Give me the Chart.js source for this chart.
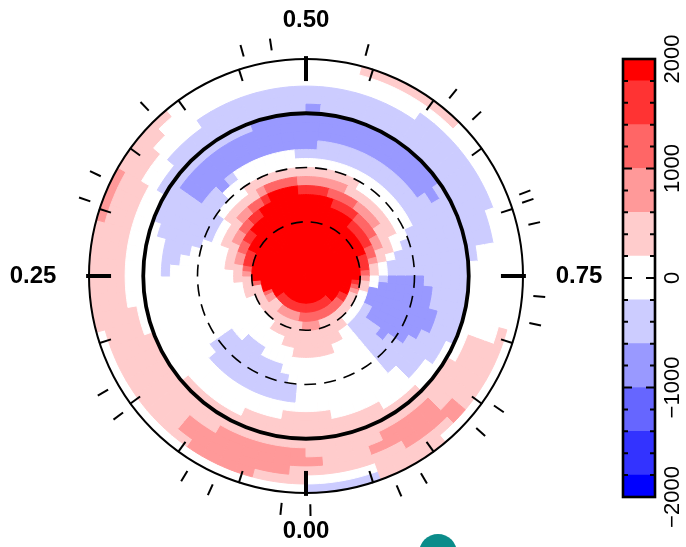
<!DOCTYPE html>
<html>
<head>
<meta charset="utf-8">
<script src="https://cdn.jsdelivr.net/npm/chart.js@4.4.1/dist/chart.umd.min.js"></script>
<style>
  html, body { margin: 0; padding: 0; background: #fff; }
  #wrap { position: relative; width: 686px; height: 547px; overflow: hidden; }
  #wrap canvas { position: absolute; left: 0; top: 0; }
</style>
</head>
<body>
<div id="wrap">
  <canvas id="map" width="686" height="547"></canvas>
  <canvas id="cbar" width="686" height="547"></canvas>
</div>
<script>
/* ---- data ---- */

// longitude bins (deg of phase), 5 deg each, starting at phase 0.00
const longitudes = [0, 5, 10, 15, 20, 25, 30, 35, 40, 45, 50, 55,
                    60, 65, 70, 75, 80, 85, 90, 95, 100, 105, 110, 115,
                    120, 125, 130, 135, 140, 145, 150, 155, 160, 165, 170, 175,
                    180, 185, 190, 195, 200, 205, 210, 215, 220, 225, 230, 235,
                    240, 245, 250, 255, 260, 265, 270, 275, 280, 285, 290, 295,
                    300, 305, 310, 315, 320, 325, 330, 335, 340, 345, 350, 355];

// outer colatitude of each ring (deg), pole outwards
const ringColat = [5, 10, 15, 20, 25, 30, 35, 40, 45, 50, 55, 60,
                   65, 70, 75, 80, 85, 90, 95, 100, 105, 110, 115, 120];

// field level per cell, one row per ring (pole outwards).
// the three polar caps use 10 deg bins (36 chars), the rest 5 deg bins (72 chars)
// a/b = weak/medium negative, 1..5 = increasing positive, 0 = near zero
const mapRows = [
  "555555 555555 555555 555555 555555 555555",
  "555555 555555 555555 555555 555555 555555",
  "555555 555555 555555 555555 555555 555555",
  "444444 444445 555555 555555 555555 555555 555555 555555 555555 555555 555444 444444",
  "332222 221112 235555 555555 555555 555555 555555 555555 555555 555554 433333 333333",
  "211111 111111 111135 555555 555555 555555 555555 555555 555555 543211 111111 111222",
  "111111 100000 001111 234445 555555 555555 555555 555555 554443 211000 000011 111111",
  "111100 000000 000001 112233 445555 555555 555555 554444 433211 00bbba aaaa00 111111",
  "110000 000000 000000 011112 233445 555555 555544 443333 221100 abbbbb baaa00 001111",
  "000000 aaa000 000000 000011 112233 455554 444333 322221 1110aa bbbbbb baaa00 000000",
  "000aaa aaaaa0 000000 000000 011111 233332 222221 111111 100aaa bbbbbb bbaa00 000000",
  "00aaaa aaaaa0 000000 0000aa a00001 111111 111111 000000 00aaaa bbbbbb baaa00 000000",
  "0aaaaa aaaaa0 000000 000aaa aaa000 000000 000000 000000 0aaaaa bbbbbb baaa00 000000",
  "0aaaaa aaaa00 000000 00aaaa aaaba0 00000a aaaaaa aaaaaa aaaaaa abbbbb aaaa00 000000",
  "000000 000000 000000 0aaaaa abbbbb bbbbbb baaaaa aaaaaa aaaaaa aaabba aaa000 000000",
  "110000 000000 000000 aaaaaa abbbbb bbbbbb bbbbbb bbbbba aaaaaa aaaaaa aaa000 000011",
  "111110 000000 000000 000aaa abbbbb bbbbbb bbbbbb bbbbbb aaaaaa aaaaaa a00000 111111",
  "111111 111100 000000 0000aa aaaaaa aabbbb bbbbbb bbbbba aaaaaa aaaaa0 000111 111111",
  "111111 111111 110000 000000 aaaaaa aaaaaa baaaaa aaaaaa aaaaa0 000000 111111 111111",
  "222222 111111 111100 000000 00aaaa aaaaaa aaaaaa aaaaaa aaaa00 000011 111222 211111",
  "222222 221111 111111 111111 00000a aaaaaa aaaaaa aaaaaa aaaa00 000011 111222 221112",
  "122222 221111 111111 111111 110000 000000 000000 0aaaaa aa0000 000011 112222 111111",
  "111222 211111 111111 111111 111000 000000 000000 000000 000000 000111 112111 110000",
  "000000 000000 000111 111222 111100 000000 000111 111000 000000 000000 000011 11aaaa"
];

// field strength (G) represented by each level
const levelValues = { e: -1900, d: -1600, c: -1200, b: -800, a: -400, '0': 0,
                      '1': 400, '2': 800, '3': 1200, '4': 1600, '5': 1900 };

// colour bar bins
const levelEdges  = [-2000, -1800, -1400, -1000, -600, -200, 200, 600, 1000, 1400, 1800, 2000];
const levelColors = ['#0000ff', '#3333ff', '#6666ff', '#9999ff', '#ccccff', '#ffffff',
                     '#ffcccc', '#ff9999', '#ff6666', '#ff3333', '#ff0000'];
const cbarTicks = [-2000, -1000, 0, 1000, 2000];

// phase labels and marks
const phaseLabels = ['0.00', '0.25', '0.50', '0.75'];
const quarterPhases = [0, 0.25, 0.5, 0.75];
const gridPhases = [0.05, 0.10, 0.15, 0.20, 0.30, 0.35, 0.40, 0.45,
                    0.55, 0.60, 0.65, 0.70, 0.80, 0.85, 0.90, 0.95];
const obsPhases = [0.017, 0.067, 0.087, 0.148, 0.167, 0.303, 0.322, 0.379,
                   0.456, 0.476, 0.542, 0.608, 0.630, 0.692, 0.698, 0.714,
                   0.764, 0.783, 0.846, 0.866, 0.916, 0.935, 0.997];

/* ---- helpers ---- */

function levelColor(v) {
  for (let i = 0; i < levelColors.length; i++) {
    if (v < levelEdges[i + 1]) return levelColors[i];
  }
  return levelColors[levelColors.length - 1];
}

// one polar-area dataset per ring; inner rings sit on top of outer ones
const ringSets = mapRows.map((row, i) => {
  const cells = row.replace(/ /g, '').split('');
  const colors = cells.map(c => levelColor(levelValues[c]));
  return {
    data: cells.map(() => ringColat[i]),
    backgroundColor: colors,
    borderColor: colors,
    borderWidth: 1,
  };
});

/* ---- map decorations: phase marks + labels ---- */
const polarDecor = {
  id: 'polarDecor',
  afterDraw(chart) {
    const r = chart.scales.r;
    const ctx = chart.ctx;
    const pt = (phase, colat) => {
      const a = (phase * 360 + 90) * Math.PI / 180;
      const d = r.getDistanceFromCenterForValue(colat);
      return [r.xCenter + d * Math.cos(a), r.yCenter + d * Math.sin(a)];
    };
    const mark = (phase, c0, c1, w) => {
      const [x0, y0] = pt(phase, c0);
      const [x1, y1] = pt(phase, c1);
      ctx.lineWidth = w;
      ctx.beginPath(); ctx.moveTo(x0, y0); ctx.lineTo(x1, y1); ctx.stroke();
    };

    ctx.save();
    ctx.strokeStyle = '#000';
    ctx.lineCap = 'butt';
    quarterPhases.forEach(p => mark(p, 107.8, 121.6, 4));
    gridPhases.forEach(p => mark(p, 113.4, 120.4, 2));
    obsPhases.forEach(p => mark(p, 126.2, 132.8, 2));

    // phase labels
    ctx.fillStyle = '#000';
    ctx.font = 'bold 24px "Liberation Sans", Arial, sans-serif';
    ctx.textAlign = 'center';
    ctx.textBaseline = 'middle';
    const rOut = r.getDistanceFromCenterForValue(120);
    phaseLabels.forEach((lab, i) => {
      const p = quarterPhases[i];
      const vertical = (p === 0 || p === 0.5);
      const d = rOut + (vertical ? 38.5 : 56);
      const a = (p * 360 + 90) * Math.PI / 180;
      ctx.fillText(lab, r.xCenter + d * Math.cos(a), r.yCenter + d * Math.sin(a));
    });

    // stray teal marker at the lower edge of the picture
    ctx.fillStyle = '#0b8c8a';
    ctx.beginPath(); ctx.arc(438, 553, 19, 0, Math.PI * 2); ctx.fill();
    ctx.restore();
  }
};

new Chart(document.getElementById('map'), {
  type: 'polarArea',
  data: { labels: longitudes.map(String), datasets: ringSets },
  options: {
    responsive: false,
    animation: false,
    layout: { padding: { left: 89, top: 59, right: 163, bottom: 54 } },
    plugins: { legend: { display: false }, tooltip: { enabled: false } },
    scales: {
      r: {
        min: 0,
        max: 120,
        startAngle: 180,
        ticks: { display: false, stepSize: 30 },
        angleLines: { display: false },
        pointLabels: { display: false },
        grid: {
          z: 1,
          circular: true,
          color: '#000',
          lineWidth: ctx => ({ 30: 1.6, 60: 1.6, 90: 3.8, 120: 2 })[ctx.tick.value] || 1,
        },
        border: { dash: ctx => (ctx.tick.value < 90 ? [12, 8] : []) },
      },
    },
  },
  plugins: [polarDecor],
});

/* ---- colour bar ---- */
const cbarDecor = {
  id: 'cbarDecor',
  afterDraw(chart) {
    const { ctx, chartArea: a } = chart;
    const y = chart.scales.y;
    ctx.save();
    ctx.strokeStyle = '#000';
    for (let v = -1800; v <= 1800; v += 200) {
      const py = y.getPixelForValue(v);
      const len = (v % 1000 === 0) ? 9 : 5;
      ctx.lineWidth = 2;
      ctx.beginPath();
      ctx.moveTo(a.left, py); ctx.lineTo(a.left + len, py);
      ctx.moveTo(a.right, py); ctx.lineTo(a.right - len, py);
      ctx.stroke();
    }
    ctx.lineWidth = 2.6;
    ctx.strokeRect(a.left, a.top, a.right - a.left, a.bottom - a.top);

    ctx.fillStyle = '#000';
    ctx.font = '22px "Liberation Sans", Arial, sans-serif';
    ctx.textAlign = 'center';
    ctx.textBaseline = 'middle';
    cbarTicks.forEach(v => {
      const txt = v < 0 ? '\u2212' + Math.abs(v) : String(v);
      ctx.save();
      ctx.translate(a.right + 18, y.getPixelForValue(v));
      ctx.rotate(-Math.PI / 2);
      ctx.fillText(txt, 0, 0);
      ctx.restore();
    });
    ctx.restore();
  }
};

new Chart(document.getElementById('cbar'), {
  type: 'bar',
  data: {
    labels: ['B'],
    datasets: levelColors.map((c, i) => ({
      data: [[levelEdges[i], levelEdges[i + 1]]],
      backgroundColor: c,
      borderWidth: 0,
      barPercentage: 1,
      categoryPercentage: 1,
      grouped: false,
    })),
  },
  options: {
    responsive: false,
    animation: false,
    layout: { padding: { left: 623, right: 31, top: 59, bottom: 50 } },
    plugins: { legend: { display: false }, tooltip: { enabled: false } },
    scales: {
      x: { display: false },
      y: { display: false, min: -2000, max: 2000 },
    },
  },
  plugins: [cbarDecor],
});
</script>
</body>
</html>
